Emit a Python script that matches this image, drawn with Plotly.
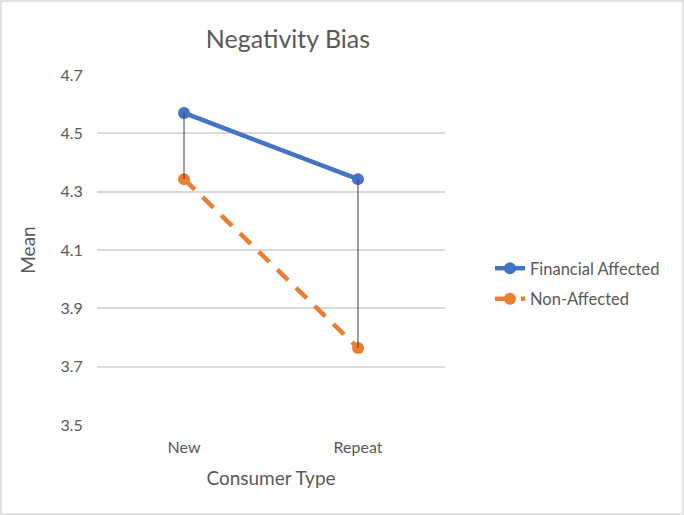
import plotly.graph_objects as go

categories = ["New", "Repeat"]
financial_affected = [4.57, 4.343]
non_affected = [4.343, 3.764]
y_ticks = [3.5, 3.7, 3.9, 4.1, 4.3, 4.5, 4.7]

W, H = 684, 515
L, R, T, B = 97, 239, 75, 90
pw, ph = W - L - R, H - T - B
FONT = "Lato, Open Sans, sans-serif"
TXT = "#595959"

fig = go.Figure()
fig.add_trace(go.Scatter(
    x=categories, y=financial_affected, mode="lines+markers", name="Financial Affected",
    line=dict(color="#4472C4", width=4.5), marker=dict(size=12, color="#4472C4"),
    legendgroup="a"))
fig.add_trace(go.Scatter(
    x=categories, y=non_affected, mode="lines+markers", name="Non-Affected",
    line=dict(color="#ED7D31", width=4.5, dash="15px,11px"), marker=dict(size=12, color="#ED7D31"),
    legendgroup="b"))

# high-low lines
hx, hy = [], []
for c, a, b in zip(categories, financial_affected, non_affected):
    hx += [c, c, None]
    hy += [a, b, None]
fig.add_trace(go.Scatter(x=hx, y=hy, mode="lines", line=dict(color="#404040", width=1),
                         showlegend=False, hoverinfo="skip"))

fig.update_layout(
    width=W, height=H,
    margin=dict(l=L, r=R, t=T, b=B),
    paper_bgcolor="white", plot_bgcolor="white",
    font=dict(family=FONT, color=TXT, size=16),
    title=dict(text="Negativity Bias", x=288 / W, xanchor="center", y=1 - 39 / H, yanchor="middle",
               font=dict(size=25, color=TXT, family=FONT)),
    xaxis=dict(type="category", range=[-0.5, 1.5], showgrid=False, zeroline=False,
               showline=False, ticks="outside", ticklen=8, tickcolor="rgba(0,0,0,0)",
               tickfont=dict(size=16, color=TXT),
               title=dict(text="Consumer Type", font=dict(size=19, color=TXT), standoff=16)),
    yaxis=dict(range=[3.5, 4.7], tickvals=y_ticks, ticktext=[f"{v:.1f}" for v in y_ticks],
               showgrid=True, gridcolor="#D9D9D9", gridwidth=1.5, zeroline=False, showline=False,
               ticks="outside", ticklen=10, tickcolor="rgba(0,0,0,0)",
               tickfont=dict(size=16, color=TXT),
               title=dict(text="Mean", font=dict(size=19, color=TXT), standoff=19)),
    legend=dict(x=(490 - L) / pw, y=1 - (251 - T) / ph, xanchor="left", yanchor="top",
                font=dict(size=16.5, color=TXT), traceorder="grouped", tracegroupgap=6,
                bgcolor="rgba(0,0,0,0)"),
    shapes=[dict(type="rect", xref="paper", yref="paper",
                 x0=(1 - L) / pw, x1=(W - 1 - L) / pw,
                 y0=-(B - 1) / ph, y1=1 + (T - 1) / ph,
                 line=dict(color="#D9D9D9", width=1.5))],
)

fig.write_html("out.html", config={"displayModeBar": False},
               post_script="document.body.style.margin='0';")
